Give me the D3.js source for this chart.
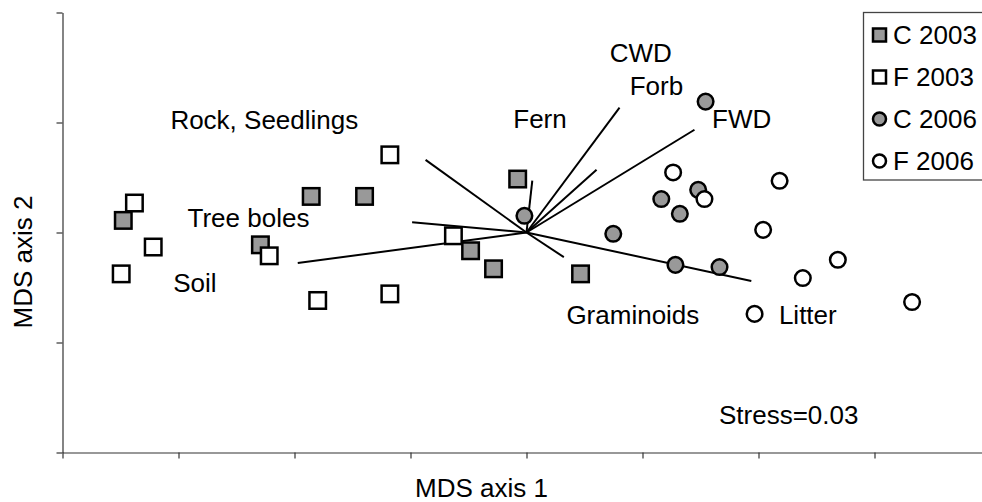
<!DOCTYPE html>
<html>
<head>
<meta charset="utf-8">
<script src="https://cdn.jsdelivr.net/npm/d3@7"></script>
<style>
	body { margin: 0; background: #fff; }
	svg { display: block; }
</style>
</head>
<body>
<div id="chart"></div>
<script>
// ----------------------------------
// DATA
// ----------------------------------

const c2003 = [[-1.738, 0.055], [-1.147, -0.056], [-0.928, 0.164], [-0.698, 0.164],
	[-0.038, 0.243], [-0.241, -0.083], [-0.142, -0.165], [0.233, -0.188]];
const f2003 = [[-1.690, 0.134], [-1.609, -0.066], [-1.747, -0.188], [-1.109, -0.106],
	[-0.589, 0.353], [-0.900, -0.309], [-0.589, -0.279], [-0.315, -0.015]];
const c2006 = [[0.772, 0.595], [0.740, 0.194], [0.581, 0.152], [0.661, 0.085],
	[-0.009, 0.076], [0.374, -0.006], [0.642, -0.147], [0.832, -0.157]];
const f2006 = [[0.632, 0.273], [0.767, 0.152], [1.091, 0.235], [1.020, 0.012],
	[1.191, -0.207], [1.342, -0.124], [1.662, -0.316], [0.983, -0.370]];

const vectorNames = ['Rock, Seedlings', 'Tree boles', 'Soil', 'Fern', 'CWD', 'Forb', 'FWD', 'Graminoids', 'Litter'];
const vectorX = [-0.435, -0.493, -0.986, 0.025, 0.401, 0.302, 0.724, 0.161, 0.969];
const vectorY = [0.330, 0.047, -0.139, 0.236, 0.568, 0.285, 0.467, -0.112, -0.220];
// where each vector label sits (data units, text start / baseline)
const labelX = [-1.535, -1.461, -1.523, -0.057, 0.359, 0.445, 0.800, 0.172, 1.088];
const labelY = [0.471, 0.026, -0.270, 0.475, 0.775, 0.626, 0.475, -0.415, -0.415];

const seriesNames = ['C 2003', 'F 2003', 'C 2006', 'F 2006'];
const xTicks = [-2, -1.5, -1, -0.5, 0, 0.5, 1, 1.5, 2];
const yTicks = [-1, -0.5, 0, 0.5, 1];
const stressText = 'Stress=0.03';

// ----------------------------------
// SETUP
// ----------------------------------

const width = 982, height = 502;
const font = '"Liberation Sans", Arial, sans-serif';
const fontSize = '26px';
const grey = '#999999';

const svg = d3.select('#chart').append('svg')
	.attr('width', width)
	.attr('height', height)
	.style('font-family', font);

const x = d3.scaleLinear().domain([-2, 2]).range([62.5, 990.5]);
const y = d3.scaleLinear().domain([-1, 1]).range([452.5, 12.5]);

// ----------------------------------
// AXES
// ----------------------------------

svg.append('g')
	.attr('transform', `translate(0,${y(-1)})`)
	.call(d3.axisBottom(x).tickValues(xTicks).tickFormat('').tickSize(6).tickSizeOuter(0))
	.call(g => g.selectAll('path, line').attr('stroke', '#333').attr('stroke-width', 1.2));

svg.append('g')
	.attr('transform', `translate(${x(-2)},0)`)
	.call(d3.axisLeft(y).tickValues(yTicks).tickFormat('').tickSize(6).tickSizeOuter(0))
	.call(g => g.selectAll('path, line').attr('stroke', '#333').attr('stroke-width', 1.2));

svg.append('text')
	.attr('x', 415)
	.attr('y', 497)
	.style('font-size', fontSize)
	.text('MDS axis 1');

svg.append('text')
	.attr('transform', 'translate(32,262) rotate(-90)')
	.attr('text-anchor', 'middle')
	.style('font-size', fontSize)
	.text('MDS axis 2');

// ----------------------------------
// VECTORS
// ----------------------------------

const vectors = vectorNames.map((name, i) => ({ name, x: vectorX[i], y: vectorY[i], lx: labelX[i], ly: labelY[i] }));

svg.append('g').selectAll('line')
	.data(vectors)
	.enter()
	.append('line')
	.attr('x1', x(0)).attr('y1', y(0))
	.attr('x2', d => x(d.x)).attr('y2', d => y(d.y))
	.attr('stroke', '#000')
	.attr('stroke-width', 2);

// ----------------------------------
// POINTS
// ----------------------------------

const sq = 16.5, r = 7.8;

function squares(data, fill) {
	svg.append('g').selectAll('rect')
		.data(data)
		.enter()
		.append('rect')
		.attr('x', d => x(d[0]) - sq / 2)
		.attr('y', d => y(d[1]) - sq / 2)
		.attr('width', sq)
		.attr('height', sq)
		.attr('fill', fill)
		.attr('stroke', '#000')
		.attr('stroke-width', 2.5);
}

function circles(data, fill) {
	svg.append('g').selectAll('circle')
		.data(data)
		.enter()
		.append('circle')
		.attr('cx', d => x(d[0]))
		.attr('cy', d => y(d[1]))
		.attr('r', r)
		.attr('fill', fill)
		.attr('stroke', '#000')
		.attr('stroke-width', 2.5);
}

squares(c2003, grey);
squares(f2003, '#fff');
circles(c2006, grey);
circles(f2006, '#fff');

// vector labels
svg.append('g').selectAll('text')
	.data(vectors)
	.enter()
	.append('text')
	.attr('x', d => x(d.lx))
	.attr('y', d => y(d.ly))
	.style('font-size', fontSize)
	.text(d => d.name);

svg.append('text')
	.attr('x', x(1.431))
	.attr('y', y(-0.87))
	.attr('text-anchor', 'end')
	.style('font-size', fontSize)
	.text(stressText);

// ----------------------------------
// LEGEND
// ----------------------------------

const legend = svg.append('g').attr('transform', 'translate(863.5,12.5)');

legend.append('rect')
	.attr('width', 140)
	.attr('height', 167.5)
	.attr('fill', '#fff')
	.attr('stroke', '#444')
	.attr('stroke-width', 1.3);

const rows = legend.selectAll('g')
	.data(seriesNames)
	.enter()
	.append('g')
	.attr('transform', (d, i) => `translate(0,${22.5 + i * 42})`);

rows.filter((d, i) => i < 2).append('rect')
	.attr('x', 9.5).attr('y', -6.5)
	.attr('width', 13).attr('height', 13)
	.attr('fill', (d, i) => i === 0 ? grey : '#fff')
	.attr('stroke', '#000')
	.attr('stroke-width', 2.5);

rows.filter((d, i) => i >= 2).append('circle')
	.attr('cx', 16).attr('cy', 0).attr('r', 6.5)
	.attr('fill', (d, i) => i === 0 ? grey : '#fff')
	.attr('stroke', '#000')
	.attr('stroke-width', 2.5);

rows.append('text')
	.attr('x', 29.5)
	.attr('y', 9)
	.style('font-size', fontSize)
	.text(d => d);
</script>
</body>
</html>
